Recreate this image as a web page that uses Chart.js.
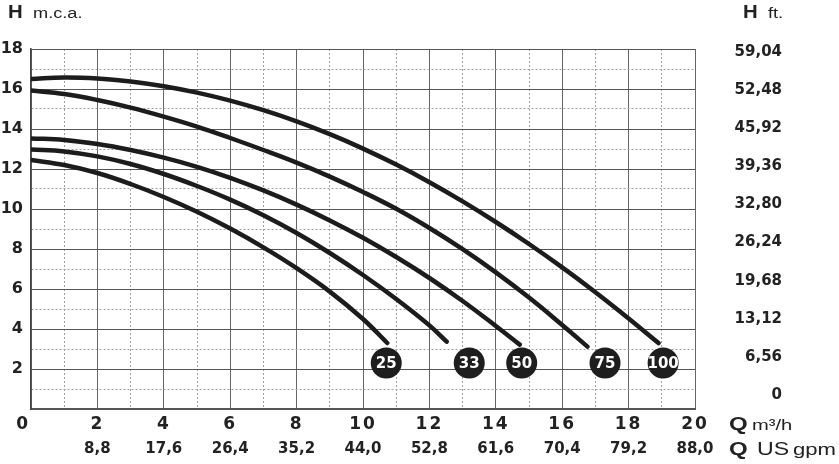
<!DOCTYPE html>
<html><head><meta charset="utf-8">
<script src="https://cdn.jsdelivr.net/npm/chart.js@4/dist/chart.umd.min.js"></script>
<style>html,body{margin:0;padding:0;background:#fff}#wrap{width:839px;height:464px}</style>
</head><body><div id="wrap"><canvas id="c" width="839" height="464"></canvas></div>
<script>
// ---- data ----
const pumpLabels = ['25', '33', '50', '75', '100'];
const q25 = [0, 1, 2, 3, 4, 5, 6, 7, 8, 9, 10, 10.73];
const h25 = [12.45, 12.2, 11.8, 11.25, 10.6, 9.86, 9.02, 8.08, 7.04, 5.87, 4.5, 3.3];
const q33 = [0, 1, 2, 3, 4, 5, 6, 7, 8, 9, 10, 11, 12, 12.52];
const h33 = [12.98, 12.88, 12.63, 12.25, 11.75, 11.15, 10.47, 9.69, 8.8, 7.8, 6.7, 5.5, 4.18, 3.37];
const q50 = [0, 1, 2, 3, 4, 5, 6, 7, 8, 9, 10, 11, 12, 13, 14, 14.72];
const h50 = [13.53, 13.45, 13.25, 12.95, 12.57, 12.11, 11.56, 10.93, 10.22, 9.43, 8.56, 7.6, 6.55, 5.4, 4.15, 3.22];
const q75 = [0, 1, 2, 3, 4, 5, 6, 7, 8, 9, 10, 11, 12, 13, 14, 15, 16, 16.76];
const h75 = [15.92, 15.75, 15.45, 15.07, 14.62, 14.12, 13.55, 12.95, 12.32, 11.62, 10.85, 10.01, 9.05, 7.99, 6.83, 5.57, 4.2, 3.12];
const q100 = [0, 1, 2, 3, 4, 5, 6, 7, 8, 9, 10, 11, 12, 13, 14, 15, 16, 17, 18, 18.9];
const h100 = [16.5, 16.58, 16.53, 16.38, 16.14, 15.82, 15.42, 14.94, 14.38, 13.74, 13.02, 12.22, 11.34, 10.38, 9.35, 8.25, 7.08, 5.84, 4.53, 3.3];
const badgeQ = [10.7, 13.2, 14.78, 17.29, 19.04];
const badgeH = [2.3, 2.3, 2.3, 2.3, 2.3];

const hTickLabels = ['2', '4', '6', '8', '10', '12', '14', '16', '18'];
const ftTickValues = [0, 6.56, 13.12, 19.68, 26.24, 32.80, 39.36, 45.92, 52.48, 59.04];
const ftTickLabels = ['0', '6,56', '13,12', '19,68', '26,24', '32,80', '39,36', '45,92', '52,48', '59,04'];
const qTickLabels = ['0  ', '2', '4', '6', '8', '10', '12', '14', '16', '18', '20'];
const gpmTickLabels = ['8,8', '17,6', '26,4', '35,2', '44,0', '52,8', '61,6', '70,4', '79,2', '88,0'];

const toPts = (q, h) => q.map((x, i) => ({x: x, y: h[i]}));
const curve = (q, h) => ({
  data: toPts(q, h), showLine: true, borderColor: '#1c1c1c', borderWidth: 4.5,
  pointRadius: 0, tension: 0.4, borderCapStyle: 'round', fill: false
});

const tickColor = '#222';
const isMinor = (c) => c.tick && Math.round(c.tick.value) % 2 !== 0;

const decor = {
  id: 'decor',
  beforeDraw(chart) { chart.ctx.letterSpacing = '0px'; },
  afterDatasetsDraw(chart) {
    const ctx = chart.ctx;
    const meta = chart.getDatasetMeta(5);
    ctx.save();
    ctx.letterSpacing = '0px';
    ctx.fillStyle = '#fff';
    ctx.font = 'bold 15px "DejaVu Sans"';
    ctx.textAlign = 'center';
    ctx.textBaseline = 'middle';
    meta.data.forEach((pt, i) => ctx.fillText(pumpLabels[i], pt.x, pt.y + 1));
    ctx.restore();
    ctx.letterSpacing = '2px';
  },
  afterDraw(chart) {
    const ctx = chart.ctx;
    ctx.letterSpacing = '0px';
    const txt = (s, x, y, font, sx) => {
      ctx.save();
      ctx.translate(x, y);
      ctx.scale(sx, 1);
      ctx.font = font;
      ctx.fillStyle = tickColor;
      ctx.textAlign = 'left';
      ctx.textBaseline = 'alphabetic';
      ctx.fillText(s, 0, 0);
      ctx.restore();
    };
    const big = 'bold 18.5px "Liberation Sans"';
    txt('H', 8, 17.5, big, 1.1);
    txt('m.c.a.', 33, 17.5, '14px "Liberation Sans"', 1.3);
    txt('H', 743, 17.5, big, 1.1);
    txt('ft.', 768, 17.5, '14px "Liberation Sans"', 1.3);
    txt('Q', 729, 430, big, 1.3);
    txt('m³/h', 752, 430, '15.5px "Liberation Sans"', 1.3);
    txt('Q', 729, 455, big, 1.3);
    txt('US', 757, 455, '18.5px "Liberation Sans"', 1.25);
    txt('gpm', 793, 455, '17px "Liberation Sans"', 1.3);
  }
};

new Chart(document.getElementById('c'), {
  type: 'scatter',
  data: {
    datasets: [
      curve(q25, h25), curve(q33, h33), curve(q50, h50), curve(q75, h75), curve(q100, h100),
      {data: toPts(badgeQ, badgeH), pointRadius: 15.5, pointHoverRadius: 15.5,
       pointBackgroundColor: '#1e1e1e', pointBorderWidth: 0, showLine: false}
    ]
  },
  options: {
    responsive: false, devicePixelRatio: 1, animation: false,
    layout: {padding: {top: 49, left: 0, right: 57, bottom: 0}},
    plugins: {legend: {display: false}, tooltip: {enabled: false}},
    scales: {
      x: {
        type: 'linear', position: 'bottom', min: 0, max: 20, weight: 0,
        afterFit: (s) => { s.height = 25; },
        grid: {drawTicks: false, color: (c) => isMinor(c) ? '#a0a0a0' : '#666', lineWidth: 1},
        border: {display: true, color: '#555', width: 2, dash: (c) => isMinor(c) ? [2, 2] : []},
        ticks: {
          stepSize: 1, autoSkip: false, maxRotation: 0, padding: 5, z: 1, color: tickColor,
          font: {family: 'DejaVu Sans', weight: 'bold', size: 17},
          callback: (v) => (Math.round(v) % 2 === 0 ? qTickLabels[Math.round(v) / 2] : '')
        }
      },
      x2: {
        type: 'linear', position: 'bottom', axis: 'x', min: 0, max: 20, weight: 1,
        afterFit: (s) => { s.height = 30; },
        grid: {display: false, drawTicks: false}, border: {display: false},
        ticks: {
          stepSize: 1, autoSkip: false, maxRotation: 0, padding: 6, color: tickColor,
          font: {family: 'DejaVu Sans', weight: 'bold', size: 15},
          callback: (v) => {
            const r = Math.round(v);
            return (r % 2 === 0 && r > 0) ? gpmTickLabels[r / 2 - 1] : '';
          }
        }
      },
      y: {
        type: 'linear', position: 'left', min: 0, max: 18,
        afterFit: (s) => { s.width = 31; },
        grid: {drawTicks: false, color: (c) => isMinor(c) ? '#a0a0a0' : '#555', lineWidth: 1},
        border: {display: true, color: '#444', width: 1.5, dash: (c) => isMinor(c) ? [2, 2] : []},
        ticks: {
          stepSize: 1, autoSkip: false, padding: 8, color: tickColor,
          font: {family: 'DejaVu Sans', weight: 'bold', size: 16},
          callback: (v) => {
            const r = Math.round(v);
            return (r % 2 === 0 && r >= 2) ? hTickLabels[r / 2 - 1] : '';
          }
        }
      },
      yft: {
        type: 'linear', position: 'right', axis: 'y', min: -2.41, max: 59.57,
        afterFit: (s) => { s.width = 87; },
        afterBuildTicks: (s) => { s.ticks = ftTickValues.map((v) => ({value: v})); },
        grid: {display: false, drawTicks: false}, border: {display: false},
        ticks: {
          autoSkip: false, padding: 10, crossAlign: 'far', color: tickColor,
          font: {family: 'DejaVu Sans', weight: 'bold', size: 15},
          callback: (v, i) => ftTickLabels[i]
        }
      }
    }
  },
  plugins: [decor]
});
</script>
</body></html>
